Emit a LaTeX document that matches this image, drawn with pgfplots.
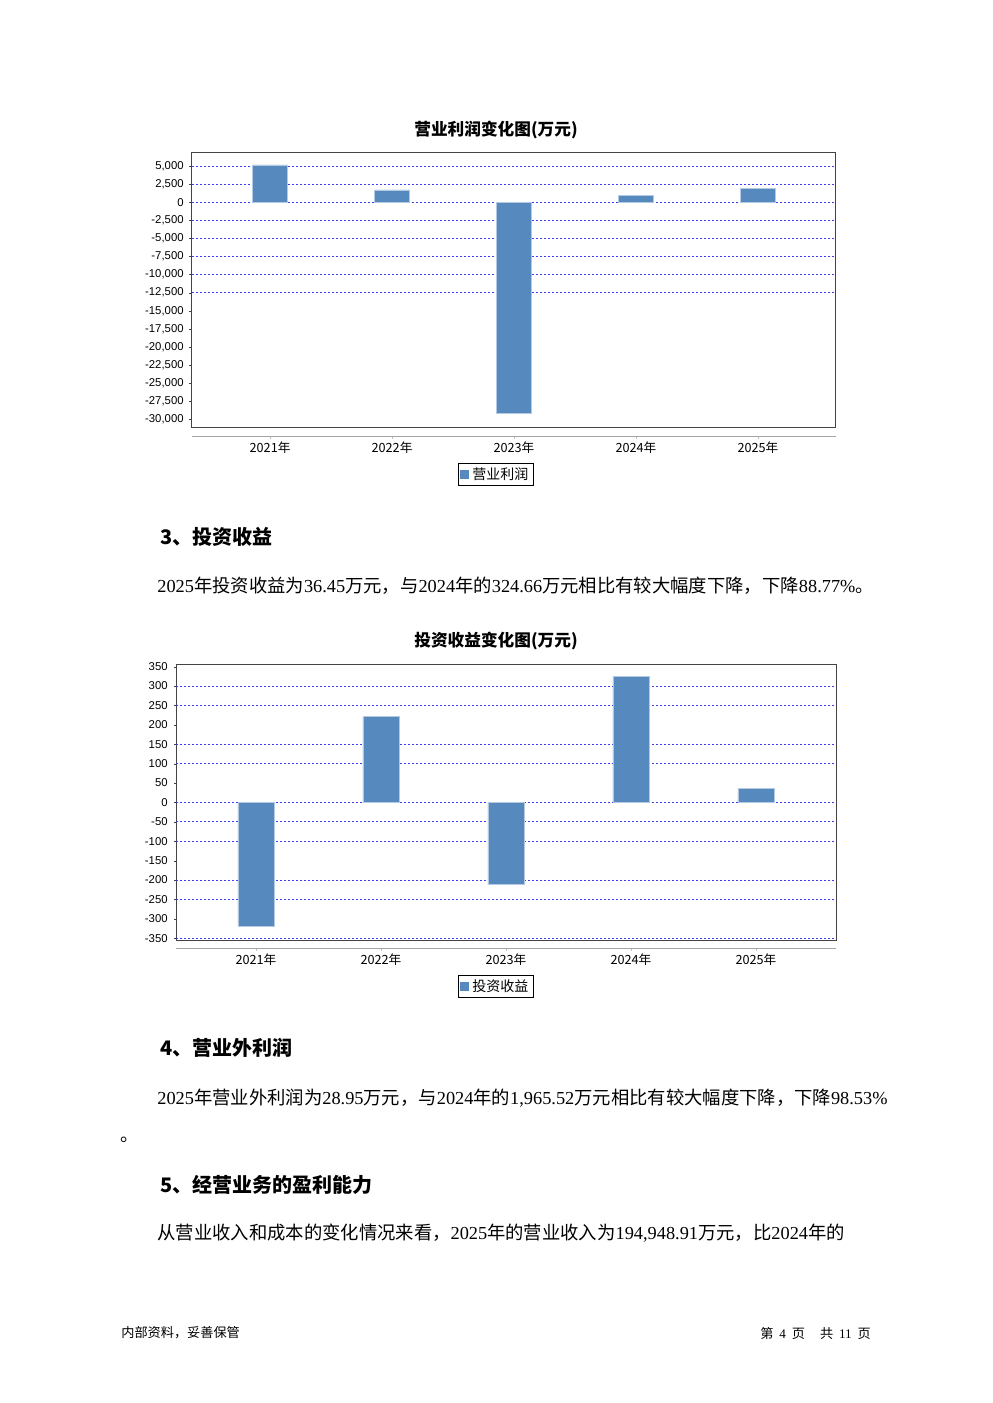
\documentclass[border=0pt]{standalone}
\usepackage{fontspec}
\setmainfont{Liberation Serif}
\setsansfont{Liberation Sans}
\newfontfamily\cjk{Noto Sans CJK SC}
\usepackage{pgfplots}
\pgfplotsset{compat=1.18}
\definecolor{barblue}{RGB}{86,138,190}
\definecolor{gridblue}{RGB}{60,60,255}
\definecolor{boxgray}{RGB}{68,68,68}
\newcommand\bodyfont{\fontsize{11}{13}\selectfont}
\newcommand\headfont{\cjk\bfseries\fontsize{12}{14}\selectfont}
\pgfplotsset{mybars/.style={
  scale only axis,
  clip=false,
  axis line style={boxgray, line width=0.6pt},
  xmin=-0.64, xmax=4.64,
  xtick={0,1,2,3,4},
  xticklabels={2021年,2022年,2023年,2024年,2025年},
  tick pos=left, tick align=outside,
  major tick length=1.5pt,
  xtick style={draw=gray!50},
  ytick style={draw=boxgray},
  scaled y ticks=false,
  xticklabel style={font=\cjk\fontsize{7.6}{9}\selectfont, anchor=center},
  yticklabel style={font=\sffamily\fontsize{6.8}{8}\selectfont,
     /pgf/number format/fixed, /pgf/number format/precision=0,
     /pgf/number format/1000 sep={,},
     /pgf/number format/assume math mode=true},
  major grid style={gridblue, line width=0.5pt, dash pattern=on 1.2pt off 1.2pt},
  extra y tick labels={},
  extra y tick style={grid=major, major tick length=0pt},
  legend style={anchor=north, draw=black, line width=0.7pt,
     inner xsep=1pt, inner ysep=0.3pt,
     font=\cjk\fontsize{8.4}{10}\selectfont},
}}
\begin{document}
\begin{tikzpicture}
\path[use as bounding box] (0,0) rectangle (595.2pt,841.8pt);

% ---------- Chart 1 ----------
\begin{axis}[mybars,
  at={(115.2pt,585.42pt)}, anchor=south west,
  width=386.4pt, height=164.58pt,
  ymin=-31078, ymax=6797,
  ytick={-30000,-27500,...,5000},
  extra y ticks={-12500,-10000,-7500,-5000,-2500,0,2500,5000},
  xticklabel style={yshift=-10.9pt},
  xtick style={yshift=-5.64pt},
  legend style={at={(0.472,-0.130)}},
]
\addplot[ybar, bar width=0.29, fill=barblue, draw=barblue!45!white, line width=0.4pt,
  legend image code/.code={\fill[barblue] (0pt,-2.4pt) rectangle (4.8pt,2.4pt);}]
  coordinates {(0,5140) (1,1700) (2,-29100) (3,940) (4,1900)};
\addlegendentry{营业利润}
\draw[gray!70, line width=0.8pt] ([yshift=-5.64pt]rel axis cs:0,0) -- ([yshift=-5.64pt]rel axis cs:1,0);
\end{axis}

% ---------- Chart 2 ----------
\begin{axis}[mybars,
  at={(105.6pt,277.2pt)}, anchor=south west,
  width=396pt, height=166.02pt,
  ymin=-357, ymax=356.2,
  ytick={-350,-300,...,350},
  extra y ticks={-350,-250,-200,-100,-50,0,100,150,250,300},
  xticklabel style={yshift=-9.9pt},
  xtick style={yshift=-4.4pt},
  legend style={at={(0.485,-0.123)}},
]
\addplot[ybar, bar width=0.29, fill=barblue, draw=barblue!45!white, line width=0.4pt,
  legend image code/.code={\fill[barblue] (0pt,-2.4pt) rectangle (4.8pt,2.4pt);}]
  coordinates {(0,-318) (1,221) (2,-211.5) (3,324.66) (4,36.45)};
\addlegendentry{投资收益}
\draw[gray!70, line width=0.8pt] ([yshift=-4.4pt]rel axis cs:0,0) -- ([yshift=-4.4pt]rel axis cs:1,0);
\end{axis}

% ---------- Page text ----------
\begin{scope}[x=0.6pt,y=0.6pt]
\node[font=\cjk\bfseries\fontsize{10}{12}\selectfont] at (496,1273) {营业利润变化图(万元)};
\node[font=\cjk\bfseries\fontsize{10}{12}\selectfont] at (496,762) {投资收益变化图(万元)};

\node[anchor=west, inner sep=0pt, font=\headfont] at (160,866) {3、投资收益};
\node[anchor=west, inner sep=0pt, font=\bodyfont] at (157,817)
  {2025{\cjk 年投资收益为}36.45{\cjk 万元，与}2024{\cjk 年的}324.66{\cjk 万元相比有较大幅度下降，下降}88.77\%{\cjk 。}};

\node[anchor=west, inner sep=0pt, font=\headfont] at (160,355) {4、营业外利润};
\node[anchor=west, inner sep=0pt, font=\bodyfont] at (157,305)
  {2025{\cjk 年营业外利润为}28.95{\cjk 万元，与}2024{\cjk 年的}1,965.52{\cjk 万元相比有较大幅度下降，下降}98.53\%};
\node[anchor=west, inner sep=0pt, font=\bodyfont\cjk] at (120,263) {。};

\node[anchor=west, inner sep=0pt, font=\headfont] at (160,218) {5、经营业务的盈利能力};
\node[anchor=west, inner sep=0pt, font=\bodyfont] at (157,170)
  {{\cjk 从营业收入和成本的变化情况来看，}2025{\cjk 年的营业收入为}194,948.91{\cjk 万元，比}2024{\cjk 年的}};

\node[anchor=west, inner sep=0pt, font=\cjk\fontsize{7.9}{9}\selectfont] at (121,70) {内部资料，妥善保管};
\node[anchor=east, inner sep=0pt, font=\fontsize{7.9}{9}\selectfont] at (871,70)
  {{\cjk 第}\hspace{3.5pt}4\hspace{3.5pt}{\cjk 页}\hspace{9pt}{\cjk 共}\hspace{3.5pt}11\hspace{3.5pt}{\cjk 页}};
\end{scope}
\end{tikzpicture}
\end{document}
